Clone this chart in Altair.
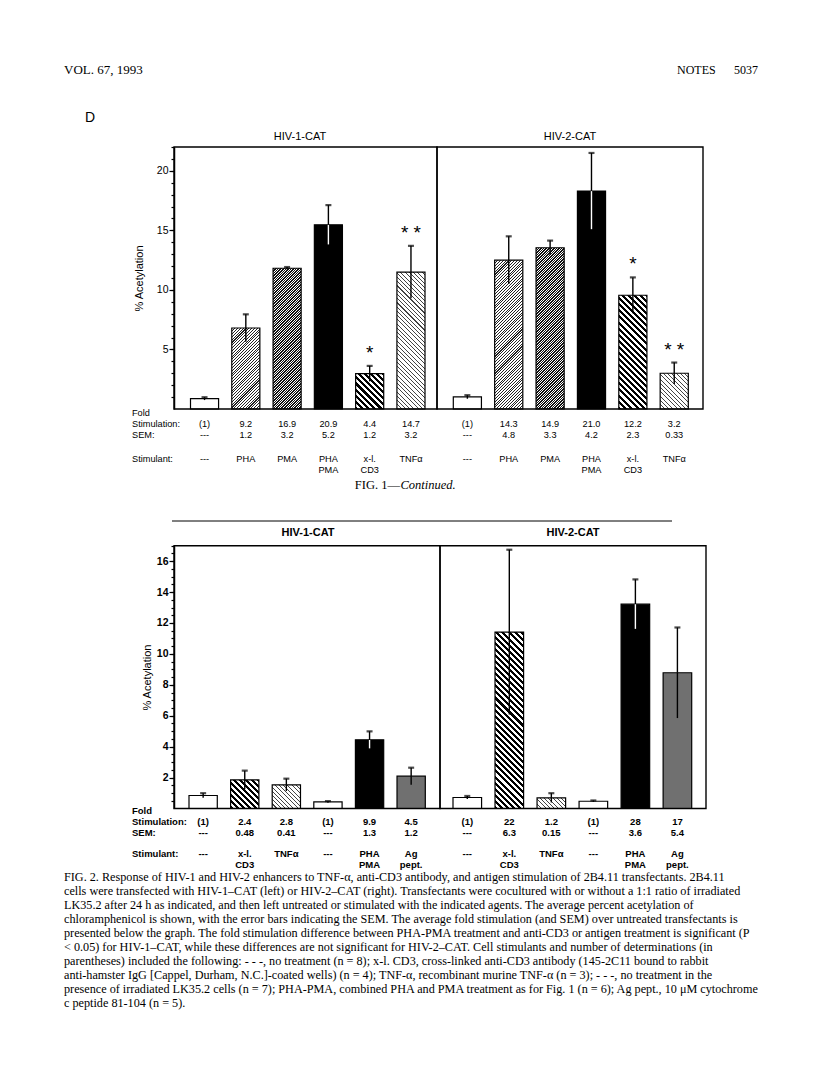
import math
import altair as alt

# ---------------- data ----------------
slots = ["s1", "s2", "s3", "s4", "s5", "s6"]

# Fig. 1 (continued), panel D
f1_hiv1_acet = [0.87, 6.8, 11.82, 15.47, 2.97, 11.5]
f1_hiv1_err = [0.12, 1.15, 0.10, 1.65, 0.65, 2.2]
f1_hiv2_acet = [1.01, 12.5, 13.54, 18.3, 9.55, 3.0]
f1_hiv2_err = [0.15, 2.0, 0.6, 3.2, 1.5, 0.9]
f1_pattern = ["open", "pha", "pma", "solid", "cd3", "tnf"]
f1_stimulant = ["---", "PHA", "PMA", "PHA\nPMA", "x-l.\nCD3", "TNFα"]
f1_hiv1_fold = ["(1)", "9.2", "16.9", "20.9", "4.4", "14.7"]
f1_hiv1_sem = ["---", "1.2", "3.2", "5.2", "1.2", "3.2"]
f1_hiv2_fold = ["(1)", "14.3", "14.9", "21.0", "12.2", "3.2"]
f1_hiv2_sem = ["---", "4.8", "3.3", "4.2", "2.3", "0.33"]
f1_stars = ["", "", "", "", "*", "* *"]

# Fig. 2
f2_hiv1_acet = [0.84, 1.85, 1.53, 0.43, 4.44, 2.09]
f2_hiv1_err = [0.15, 0.6, 0.4, 0.05, 0.55, 0.55]
f2_hiv2_acet = [0.71, 11.41, 0.69, 0.47, 13.22, 8.78]
f2_hiv2_err = [0.1, 5.33, 0.3, 0.05, 1.6, 2.93]
f2_pattern = ["open", "cd3", "tnf", "open", "solid", "ag"]
f2_stimulant = ["---", "x-l.\nCD3", "TNFα", "---", "PHA\nPMA", "Ag\npept."]
f2_hiv1_fold = ["(1)", "2.4", "2.8", "(1)", "9.9", "4.5"]
f2_hiv1_sem = ["---", "0.48", "0.41", "---", "1.3", "1.2"]
f2_hiv2_fold = ["(1)", "22", "1.2", "(1)", "28", "17"]
f2_hiv2_sem = ["---", "6.3", "0.15", "---", "3.6", "5.4"]
f2_stars = ["", "", "", "", "", ""]

top_major_ticks = [5, 10, 15, 20]
top_minor_ticks = list(range(1, 23))
bot_major_ticks = [2, 4, 6, 8, 10, 12, 14, 16]
bot_minor_ticks = [v / 2 for v in range(1, 35)]

row_labels = ["Fold", "Stimulation:", "SEM:", "Stimulant:"]

caption2 = [
    "\u00a0\u00a0\u00a0FIG. 2.  Response of HIV-1 and HIV-2 enhancers to TNF-α, anti-CD3 antibody, and antigen stimulation of 2B4.11 transfectants. 2B4.11",
    "cells were transfected with HIV-1–CAT (left) or HIV-2–CAT (right). Transfectants were cocultured with or without a 1:1 ratio of irradiated",
    "LK35.2 after 24 h as indicated, and then left untreated or stimulated with the indicated agents. The average percent acetylation of",
    "chloramphenicol is shown, with the error bars indicating the SEM. The average fold stimulation (and SEM) over untreated transfectants is",
    "presented below the graph. The fold stimulation difference between PHA-PMA treatment and anti-CD3 or antigen treatment is significant (P",
    "< 0.05) for HIV-1–CAT, while these differences are not significant for HIV-2–CAT. Cell stimulants and number of determinations (in",
    "parentheses) included the following: - - -, no treatment (n = 8); x-l. CD3, cross-linked anti-CD3 antibody (145-2C11 bound to rabbit",
    "anti-hamster IgG [Cappel, Durham, N.C.]-coated wells) (n = 4); TNF-α, recombinant murine TNF-α (n = 3); - - -, no treatment in the",
    "presence of irradiated LK35.2 cells (n = 7); PHA-PMA, combined PHA and PMA treatment as for Fig. 1 (n = 6); Ag pept., 10 μM cytochrome",
    "c peptide 81-104 (n = 5).",
]

# ---------------- layout (canvas px = page px - 8) ----------------
SANS = "Liberation Sans"
SERIF = "Liberation Serif"
PAD_IN = 0.32
AX_X = 166

TOP_Y = [401, 139]      # y range for 0..22
BOT_Y = [800.5, 537.7]  # y range for 0..17


def stripes(direction, W, H, period, frac, ink, paper="white"):
    H = max(H, 1.0)
    n = (W + H) / (math.sqrt(2) * period)
    k = (W + H) / (W * W + H * H)
    stops = []
    i = 0
    while i / n < 1:
        a = i / n
        b = min((i + frac) / n, 1.0)
        c = min((i + 1) / n, 1.0)
        stops += [{"offset": a, "color": ink}, {"offset": b, "color": ink},
                  {"offset": b, "color": paper}, {"offset": c, "color": paper}]
        i += 1
    if direction == "/":
        g = {"gradient": "linear", "x1": 0, "y1": 0, "x2": k * W, "y2": k * H}
    else:
        g = {"gradient": "linear", "x1": 0, "y1": 1, "x2": k * W, "y2": 1 - k * H}
    g["stops"] = stops
    return g


def make_fill(kind, W, H):
    if kind == "open":
        return "white"
    if kind == "solid":
        return "black"
    if kind == "ag":
        return "#707070"
    d, p, f, ink = {
        "pha": ("/", 2.0, 0.38, "#222"),
        "pma": ("/", 1.8, 0.6, "#111"),
        "cd3": ("\\", 4.3, 0.5, "#000"),
        "tnf": ("\\", 3.0, 0.25, "#444"),
    }[kind]
    return stripes(d, W, H, p, f, ink)


def panel(vals, errs, patterns, fold, sem, stim, stars, xr, yr, ymax, frame,
          rows_y, weight, fsize):
    ppu = (yr[0] - yr[1]) / ymax
    W = (xr[1] - xr[0]) / (6 - PAD_IN) * (1 - PAD_IN)
    recs = []
    for i in range(6):
        recs.append({
            "slot": slots[i], "v": vals[i], "lo": vals[i] - errs[i],
            "hi": vals[i] + errs[i],
            "fillv": make_fill(patterns[i], W, vals[i] * ppu),
            "ecol": "white" if patterns[i] == "solid" else "black",
            "fold": fold[i], "sem": sem[i], "stim": stim[i], "star": stars[i],
        })
    data = alt.Data(values=recs)
    xs = alt.X("slot:N", sort=slots, axis=None,
               scale=alt.Scale(type="band", range=xr, paddingInner=PAD_IN, paddingOuter=0))
    ysc = alt.Scale(domain=[0, ymax], range=yr, nice=False, zero=True)
    base = alt.Chart(data)
    bars = base.mark_bar(stroke="black", strokeWidth=1.2).encode(
        x=xs, y=alt.Y("v:Q", scale=ysc, axis=None),
        fill=alt.Fill("fillv:N", scale=None, legend=None))
    fr = alt.Chart(alt.Data(values=[{"k": 1}])).mark_rect(
        filled=False, color="black", strokeWidth=1.4).encode(
        x=alt.value(frame[0]), x2=alt.value(frame[1]),
        y=alt.value(yr[1]), y2=alt.value(yr[0]))
    low = base.mark_rule(strokeWidth=1.4).encode(
        x=xs, y=alt.Y("lo:Q", scale=ysc, axis=None), y2="v:Q",
        color=alt.Color("ecol:N", scale=None, legend=None))
    up = base.mark_rule(strokeWidth=1.4, color="black").encode(
        x=xs, y=alt.Y("v:Q", scale=ysc, axis=None), y2="hi:Q")
    cap = base.mark_tick(color="black", thickness=2.2, size=6).encode(
        x=xs, y=alt.Y("hi:Q", scale=ysc, axis=None))
    st = base.mark_text(font=SANS, fontSize=19, dy=-13, color="black").encode(
        x=xs, y=alt.Y("hi:Q", scale=ysc, axis=None), text="star:N")
    tprops = dict(font=SANS, fontSize=fsize, fontWeight=weight, color="black",
                  align="center", baseline="middle")
    t_fold = base.mark_text(**tprops).encode(x=xs, y=alt.value(rows_y[1]), text="fold:N")
    t_sem = base.mark_text(**tprops).encode(x=xs, y=alt.value(rows_y[2]), text="sem:N")
    t_stim = base.mark_text(lineBreak="\n", lineHeight=11, **tprops).encode(
        x=xs, y=alt.value(rows_y[3]), text="stim:N")
    return alt.layer(bars, fr, low, up, cap, st, t_fold, t_sem, t_stim)


def axis_layer(ticks, ymax, yr, size, major, weight, pad):
    """An invisible layer that only carries a y axis at x = AX_X."""
    ax = alt.Axis(
        orient="left", offset=-AX_X, values=ticks, grid=False, tickSize=size,
        tickColor="black", tickWidth=1.2,
        domain=major, domainColor="black", domainWidth=1.5,
        labels=major, labelFont=SANS, labelFontSize=10.5, labelFontWeight=weight,
        labelColor="black", labelPadding=1,
        title="% Acetylation" if major else "", titleFont=SANS, titleFontSize=11,
        titleFontWeight="normal", titleColor="black", titlePadding=pad)
    return alt.Chart(alt.Data(values=[{"v": 0}])).mark_point(opacity=0).encode(
        y=alt.Y("v:Q", scale=alt.Scale(domain=[0, ymax], range=yr, nice=False), axis=ax))


def label(text, x, y, **kw):
    return alt.Chart(alt.Data(values=[{"t": text}])).mark_text(color="black", **kw).encode(
        x=alt.value(x), y=alt.value(y), text="t:N")


top_rows = [404.5, 415.5, 426.5, 451]
bot_rows = [803, 814, 825.3, 845.5]

axes = [
    axis_layer(top_minor_ticks, 22, TOP_Y, 3, False, "normal", 12),
    axis_layer(top_major_ticks, 22, TOP_Y, 5, True, "normal", 12),
    axis_layer(bot_minor_ticks, 17, BOT_Y, 3, False, "bold", 4),
    axis_layer(bot_major_ticks, 17, BOT_Y, 5, True, "bold", 4),
]

p_t1 = panel(f1_hiv1_acet, f1_hiv1_err, f1_pattern, f1_hiv1_fold, f1_hiv1_sem, f1_stimulant,
             f1_stars, [182.5, 417], TOP_Y, 22, [166, 429], top_rows, "normal", 9.2)
p_t2 = panel(f1_hiv2_acet, f1_hiv2_err, f1_pattern, f1_hiv2_fold, f1_hiv2_sem, f1_stimulant,
             f1_stars, [445.3, 680.3], TOP_Y, 22, [429, 695], top_rows, "normal", 9.2)
p_b1 = panel(f2_hiv1_acet, f2_hiv1_err, f2_pattern, f2_hiv1_fold, f2_hiv1_sem, f2_stimulant,
             f2_stars, [181, 417.3], BOT_Y, 17, [166, 432], bot_rows, "bold", 9.5)
p_b2 = panel(f2_hiv2_acet, f2_hiv2_err, f2_pattern, f2_hiv2_fold, f2_hiv2_sem, f2_stimulant,
             f2_stars, [445, 683.7], BOT_Y, 17, [432, 698], bot_rows, "bold", 9.5)

row_layers = []
for lab, yy in zip(row_labels, top_rows):
    row_layers.append(label(lab, 124, yy, font=SANS, fontSize=9.2, align="left", baseline="middle"))
for lab, yy in zip(row_labels, bot_rows):
    row_layers.append(label(lab, 124, yy, font=SANS, fontSize=9.5, fontWeight="bold",
                            align="left", baseline="middle"))

texts = [
    label("VOL. 67, 1993", 56, 62, font=SERIF, fontSize=13, align="left", baseline="middle"),
    label("NOTES", 669, 62, font=SERIF, fontSize=12, align="left", baseline="middle"),
    label("5037", 750, 62, font=SERIF, fontSize=12, align="right", baseline="middle"),
    label("D", 77, 110, font=SANS, fontSize=14, align="left", baseline="middle"),
    label("HIV-1-CAT", 292, 129, font=SANS, fontSize=11, align="center", baseline="middle"),
    label("HIV-2-CAT", 562, 129, font=SANS, fontSize=11, align="center", baseline="middle"),
    label("FIG. 1—", 392, 477, font=SERIF, fontSize=12.5, align="right", baseline="middle"),
    label("Continued.", 392.5, 477, font=SERIF, fontSize=12.5, fontStyle="italic",
          align="left", baseline="middle"),
    label("HIV-1-CAT", 300, 525, font=SANS, fontSize=11, fontWeight="bold",
          align="center", baseline="middle"),
    label("HIV-2-CAT", 565, 525, font=SANS, fontSize=11, fontWeight="bold",
          align="center", baseline="middle"),
]

sep = alt.Chart(alt.Data(values=[{"k": 1}])).mark_rule(color="black", strokeWidth=1).encode(
    x=alt.value(164), x2=alt.value(664), y=alt.value(513))

cap_data = alt.Data(values=[{"i": i, "t": t} for i, t in enumerate(caption2)])
caption = alt.Chart(cap_data).mark_text(
    font=SERIF, fontSize=12.2, align="left", baseline="middle", color="black").encode(
    x=alt.value(56),
    y=alt.Y("i:Q", scale=alt.Scale(domain=[0, 9], range=[869, 995]), axis=None),
    text="t:N")

chart = alt.layer(
    *axes, *texts, sep, p_t1, p_t2, p_b1, p_b2, *row_layers, caption
).resolve_scale(x="independent", y="independent").properties(
    width=800, height=1060, autosize=alt.AutoSizeParams(type="none"),
    padding=0, background="white"
).configure_view(stroke=None)

chart.save("out.html", embed_options={"renderer": "svg", "actions": False})
